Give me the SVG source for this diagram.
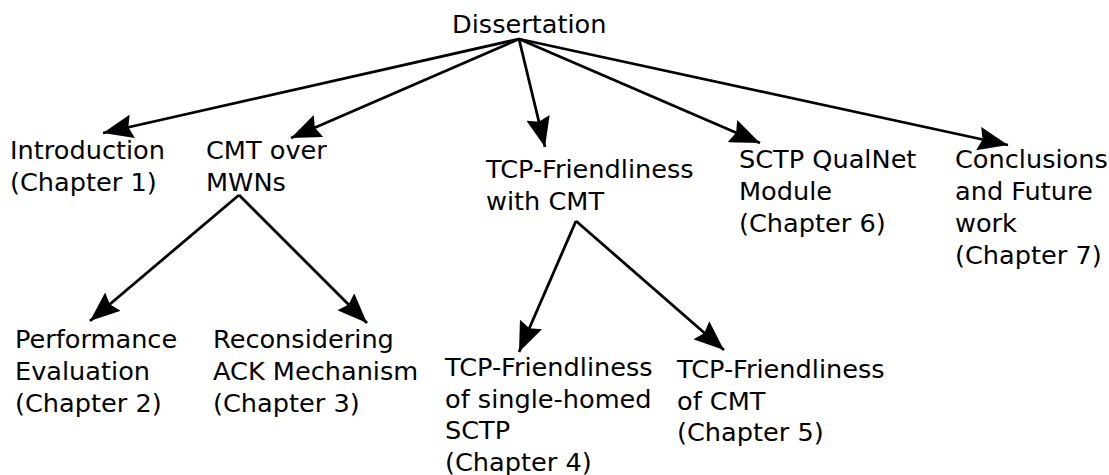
<svg xmlns="http://www.w3.org/2000/svg" width="1109" height="475" viewBox="0 0 1109 475">
  <style>
    .lbl { font-family: "DejaVu Sans", "Liberation Sans", sans-serif; font-size: 25.6px; fill: #000; }
    .edge { stroke: #000; stroke-width: 2.8; fill: none; marker-end: url(#head); }
  </style>
  <defs>
    <marker id="head" viewBox="0 0 30 24" refX="30" refY="12" markerWidth="30" markerHeight="24" markerUnits="userSpaceOnUse" orient="auto">
      <path d="M0,0 L30,12 L0,24 L4,12 Z" fill="#000"/>
    </marker>
  </defs>
  <rect width="1109" height="475" fill="#fff"/>

  <g id="connectors">
    <line class="edge" x1="519" y1="39" x2="103" y2="133"/>
    <line class="edge" x1="519" y1="39" x2="291" y2="138"/>
    <line class="edge" x1="519" y1="39" x2="545" y2="147"/>
    <line class="edge" x1="519" y1="39" x2="760" y2="143"/>
    <line class="edge" x1="519" y1="39" x2="1008" y2="145"/>
    <line class="edge" x1="239" y1="195" x2="90" y2="321"/>
    <line class="edge" x1="239" y1="195" x2="367" y2="323"/>
    <line class="edge" x1="576" y1="221" x2="519" y2="352"/>
    <line class="edge" x1="576" y1="221" x2="724" y2="350"/>
  </g>

  <g id="dissertation">
    <text class="lbl" x="452" y="33">Dissertation</text>
  </g>
  <g id="introduction">
    <text class="lbl" x="10" y="159">Introduction<tspan x="10" dy="32">(Chapter 1)</tspan></text>
  </g>
  <g id="cmt-mwn">
    <text class="lbl" x="206" y="159">CMT over<tspan x="206" dy="32">MWNs</tspan></text>
  </g>
  <g id="tcp-friendliness-cmt">
    <text class="lbl" x="486" y="178">TCP-Friendliness<tspan x="486" dy="32">with CMT</tspan></text>
  </g>
  <g id="sctp-qualnet">
    <text class="lbl" x="739" y="168">SCTP QualNet<tspan x="739" dy="32">Module</tspan><tspan x="739" dy="32">(Chapter 6)</tspan></text>
  </g>
  <g id="conclusions">
    <text class="lbl" x="955" y="168">Conclusions<tspan x="955" dy="32">and Future</tspan><tspan x="955" dy="32">work</tspan><tspan x="955" dy="32">(Chapter 7)</tspan></text>
  </g>
  <g id="performance">
    <text class="lbl" x="15" y="348">Performance<tspan x="15" dy="32">Evaluation</tspan><tspan x="15" dy="32">(Chapter 2)</tspan></text>
  </g>
  <g id="ack-mechanism">
    <text class="lbl" x="213" y="348">Reconsidering<tspan x="213" dy="32">ACK Mechanism</tspan><tspan x="213" dy="32">(Chapter 3)</tspan></text>
  </g>
  <g id="tcp-single-homed">
    <text class="lbl" x="445" y="376">TCP-Friendliness<tspan x="445" dy="31.5">of single-homed</tspan><tspan x="445" dy="31.5">SCTP</tspan><tspan x="445" dy="31.5">(Chapter 4)</tspan></text>
  </g>
  <g id="tcp-cmt">
    <text class="lbl" x="677" y="378">TCP-Friendliness<tspan x="677" dy="31.5">of CMT</tspan><tspan x="677" dy="31.5">(Chapter 5)</tspan></text>
  </g>
</svg>
